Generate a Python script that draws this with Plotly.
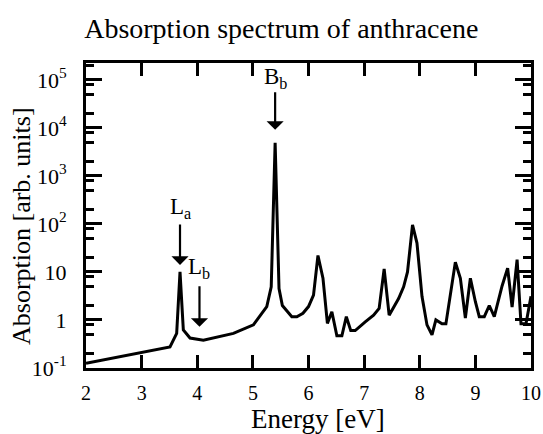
import math
import plotly.graph_objects as go

# Absorption spectrum of anthracene (energy in eV, absorption in arbitrary units)
energy = [2.00, 3.47, 3.51, 3.63, 3.69, 3.75, 3.87, 4.11, 4.65, 5.01,
          5.25, 5.33, 5.40, 5.47, 5.53, 5.70, 5.79, 5.90, 6.00, 6.09,
          6.17, 6.26, 6.34, 6.42, 6.51, 6.60, 6.68, 6.76, 6.84, 7.02,
          7.17, 7.27, 7.36, 7.45, 7.53, 7.62, 7.71, 7.78, 7.87, 7.95,
          8.04, 8.13, 8.22, 8.29, 8.40, 8.47, 8.64, 8.73, 8.82, 8.91,
          9.00, 9.07, 9.16, 9.25, 9.34, 9.48, 9.58, 9.66, 9.75, 9.82,
          9.91, 10.00]
absorption = [0.126, 0.263, 0.275, 0.525, 10.0, 0.617, 0.42, 0.38, 0.525, 0.79,
              1.9, 4.9, 4900, 4.5, 2.0, 1.17, 1.17, 1.38, 1.9, 3.3,
              22, 7.4, 0.85, 1.48, 0.47, 0.47, 1.17, 0.60, 0.60, 0.91,
              1.26, 1.74, 11.5, 1.26, 1.9, 2.8, 4.9, 10.0, 95, 40,
              3.1, 0.79, 0.49, 1.0, 0.83, 0.83, 16, 7.4, 1.1, 7.4,
              2.4, 1.17, 1.17, 2.0, 1.17, 5.1, 12, 1.86, 18, 0.83,
              0.83, 3.1]

# Band labels: name, energy, arrow tail, arrow tip, label height
band_names = ["L<sub>a</sub>", "L<sub>b</sub>", "B<sub>b</sub>"]
band_energy = [3.69, 4.04, 5.40]
arrow_tail = [105, 5.4, 59000]
arrow_tip = [14, 0.72, 9100]
label_pos = [215, 12, 110000]

x_ticks = [2, 3, 4, 5, 6, 7, 8, 9, 10]
y_ticks = [0.1, 1, 10, 100, 1000, 1e4, 1e5]
y_ticklabels = ["10<sup>-1</sup>", "1", "10", "10<sup>2</sup>",
                "10<sup>3</sup>", "10<sup>4</sup>", "10<sup>5</sup>"]
y_minor = [m * 10.0 ** p for p in range(-1, 6) for m in (2, 5, 8)
           if m * 10.0 ** p < 2.2e5]

FONT = "Times New Roman, Liberation Serif, serif"

fig = go.Figure()
fig.add_trace(go.Scatter(x=energy, y=absorption, mode="lines",
                         line=dict(color="black", width=3),
                         showlegend=False, hoverinfo="skip"))

for name, e, tail, tip, lab in zip(band_names, band_energy, arrow_tail,
                                   arrow_tip, label_pos):
    fig.add_annotation(x=e, y=math.log10(tip), ax=e, ay=math.log10(tail),
                       xref="x", yref="y", axref="x", ayref="y",
                       showarrow=True, arrowhead=1, arrowsize=1.3,
                       arrowwidth=2.2, arrowcolor="black", text="")
    fig.add_annotation(x=e, y=math.log10(lab), xref="x", yref="y",
                       text=name, showarrow=False,
                       font=dict(family=FONT, size=23, color="black"))

# Axis titles (placed in pixels, converted to paper coordinates below)
fig.add_annotation(text="Energy [eV]", x=318, y=419, xref="paper", yref="paper",
                   showarrow=False, font=dict(family=FONT, size=27, color="black"))
fig.add_annotation(text="Absorption [arb. units]", x=21, y=226,
                   xref="paper", yref="paper", textangle=-90, showarrow=False,
                   font=dict(family=FONT, size=26, color="black"))

fig.update_layout(
    width=543, height=434,
    margin=dict(l=86, r=12, t=63, b=66, autoexpand=False),
    paper_bgcolor="white", plot_bgcolor="white",
    font=dict(family=FONT, color="black"),
    title=dict(text="Absorption spectrum of anthracene",
               x=0.518, xref="container", xanchor="center",
               y=0.935, yref="container", yanchor="middle",
               font=dict(family=FONT, size=28, color="black")),
)

W, H, L, R, T, B = 543, 434, 86, 12, 63, 66
pw, ph = W - L - R, H - T - B
for ann in fig.layout.annotations[-2:]:
    ann.x = (ann.x - L) / pw
    ann.y = (H - B - ann.y) / ph
    ann.xanchor = "center"
    ann.yanchor = "middle"

fig.update_xaxes(
    range=[2, 10], tickmode="array", tickvals=x_ticks, automargin=False,
    ticks="inside", ticklen=13, tickwidth=2.5, tickcolor="black",
    showline=True, linewidth=3, linecolor="black", mirror="ticks",
    showgrid=False, zeroline=False, ticklabelstandoff=5,
    tickfont=dict(family=FONT, size=20, color="black"),
)

fig.update_yaxes(
    type="log", range=[-1, 5.35], tickmode="array", automargin=False,
    tickvals=y_ticks, ticktext=y_ticklabels,
    ticks="inside", ticklen=16, tickwidth=2.5, tickcolor="black",
    minor=dict(tickmode="array", tickvals=y_minor, ticks="inside",
               ticklen=8, tickwidth=2.5, tickcolor="black", showgrid=False),
    showline=True, linewidth=3, linecolor="black", mirror="ticks",
    showgrid=False, zeroline=False, ticklabelstandoff=12,
    tickfont=dict(family=FONT, size=22, color="black"),
)

fig.write_html("out.html")
